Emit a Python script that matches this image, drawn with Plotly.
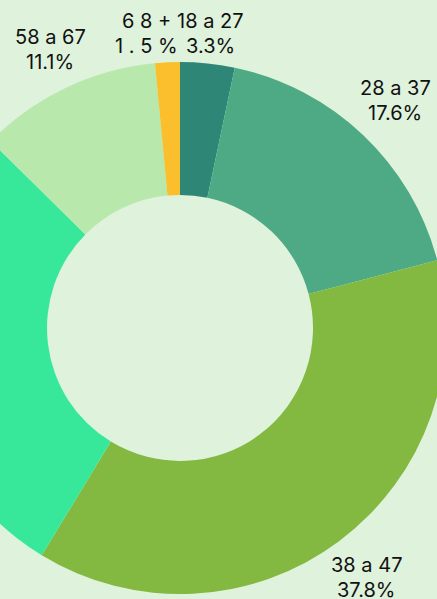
import plotly.graph_objects as go

categories = ["18 a 27", "28 a 37", "38 a 47", "48 a 57", "58 a 67", "68+"]
shown_labels = ["18 a 27", "28 a 37", "38 a 47", "48 a 57", "58 a 67", "6 8 +"]
values = [3.3, 17.6, 37.8, 28.7, 11.1, 1.5]
shown_pct = ["3.3%", "17.6%", "37.8%", "28.7%", "11.1%", "1 . 5 %"]
colors = ["#2e8676", "#4daa85", "#84b941", "#38e89a", "#b8e8ac", "#fbbe2c"]

# label line centres in page pixels: (x, y of first line); None = off-window
label_pos = [(210, 20), (395, 87), (366, 564), None, (50, 36), (146, 20)]
LINE_GAP = 25

BG = "#dff2dc"
R = 266
CX, CY = 180, 328          # pie centre on the page
W, H = 2 * R, 2 * CY
SHIFT = CX - R             # div offset to the left

fig = go.Figure(go.Pie(
    labels=categories,
    values=values,
    textinfo="none",
    hole=0.5,
    sort=False,
    direction="clockwise",
    rotation=0,
    marker=dict(colors=colors, line=dict(width=0)),
    showlegend=False,
    domain=dict(x=[0, 1], y=[0, 1]),
    hoverinfo="label+percent",
))

for lab, pct, pos in zip(shown_labels, shown_pct, label_pos):
    if pos is None:
        continue
    px, py = pos
    for i, line in enumerate([lab, pct]):
        fig.add_annotation(
            text=line,
            x=(px - SHIFT) / W, y=1 - (py + i * LINE_GAP + 1) / H,
            xref="paper", yref="paper",
            xanchor="center", yanchor="middle",
            showarrow=False, align="center",
            font=dict(family="Inter", size=20, color="#111111"),
        )

fig.update_layout(
    width=W, height=H,
    margin=dict(l=0, r=0, t=0, b=0),
    paper_bgcolor=BG, plot_bgcolor=BG,
)

shift_js = (
    "document.body.style.margin='0';"
    "document.body.style.overflow='hidden';"
    "document.documentElement.style.background='" + BG + "';"
    "document.body.style.background='" + BG + "';"
    "var d=document.getElementById('{plot_id}');"
    "d.style.position='absolute';d.style.left='" + str(SHIFT) + "px';d.style.top='0px';"
)

fig.write_html("out.html", post_script=shift_js, config={"displayModeBar": False})
